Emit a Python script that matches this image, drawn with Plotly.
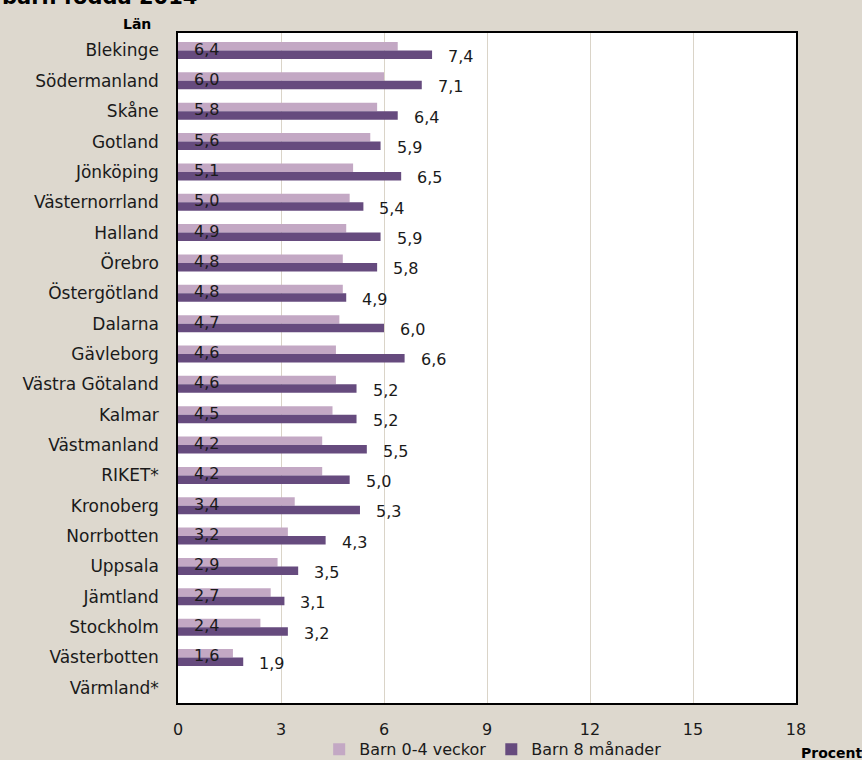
import plotly.graph_objects as go

categories = ["Blekinge", "Södermanland", "Skåne", "Gotland", "Jönköping", "Västernorrland",
              "Halland", "Örebro", "Östergötland", "Dalarna", "Gävleborg", "Västra Götaland",
              "Kalmar", "Västmanland", "RIKET*", "Kronoberg", "Norrbotten", "Uppsala",
              "Jämtland", "Stockholm", "Västerbotten", "Värmland*"]
barn_0_4_veckor = [6.4, 6.0, 5.8, 5.6, 5.1, 5.0, 4.9, 4.8, 4.8, 4.7, 4.6, 4.6, 4.5, 4.2, 4.2,
                   3.4, 3.2, 2.9, 2.7, 2.4, 1.6, None]
barn_8_manader = [7.4, 7.1, 6.4, 5.9, 6.5, 5.4, 5.9, 5.8, 4.9, 6.0, 6.6, 5.2, 5.2, 5.5, 5.0,
                  5.3, 4.3, 3.5, 3.1, 3.2, 1.9, None]
x_ticks = [0, 3, 6, 9, 12, 15, 18]

FONT = "DejaVu Sans"
LIGHT = "#C3A8C4"
DARK = "#664B7E"
BG = "#DDD8CE"
TXT = "#1a1a1a"

def fmt(v):
    return f"{v:.1f}".replace(".", ",")

fig = go.Figure()
fig.add_trace(go.Bar(y=categories, x=barn_0_4_veckor, orientation="h", name="Barn 0-4 veckor",
                     marker=dict(color=LIGHT, line=dict(width=0))))
fig.add_trace(go.Bar(y=categories, x=barn_8_manader, orientation="h", name="Barn 8 månader",
                     marker=dict(color=DARK, line=dict(width=0))))

annotations = []
for c, a, b in zip(categories, barn_0_4_veckor, barn_8_manader):
    if a is not None:
        annotations.append(dict(x=0, y=c, xref="x", yref="y", text=fmt(a), showarrow=False,
                                xanchor="left", yanchor="middle", xshift=14, yshift=1.5,
                                font=dict(family=FONT, size=16, color=TXT)))
    if b is not None:
        annotations.append(dict(x=b, y=c, xref="x", yref="y", text=fmt(b), showarrow=False,
                                xanchor="left", yanchor="middle", xshift=14, yshift=-6,
                                font=dict(family=FONT, size=16, color=TXT)))

annotations.append(dict(x=-0.288, y=1.033, xref="paper", yref="paper", text="<b>barn födda 2014</b>",
                        showarrow=False, xanchor="left", yanchor="bottom",
                        font=dict(family=FONT, size=21, color="#000")))
annotations.append(dict(x=-0.066, y=1.0135, xref="paper", yref="paper", text="<b>Län</b>",
                        showarrow=False, xanchor="center", yanchor="middle",
                        font=dict(family=FONT, size=14, color="#000")))
annotations.append(dict(x=1.058, y=-0.074, xref="paper", yref="paper", text="<b>Procent</b>",
                        showarrow=False, xanchor="center", yanchor="middle",
                        font=dict(family=FONT, size=14, color="#000")))

fig.update_layout(
    width=862, height=760,
    margin=dict(l=178, r=66, t=33, b=57, autoexpand=False),
    paper_bgcolor=BG, plot_bgcolor="#FFFFFF",
    barmode="group", bargap=0.44, bargroupgap=0,
    font=dict(family=FONT, size=16, color=TXT),
    showlegend=True,
    legend=dict(orientation="h", x=0.51, xanchor="center", y=-0.069, yanchor="middle",
                bgcolor="rgba(0,0,0,0)", font=dict(family=FONT, size=16, color=TXT),
                itemwidth=30, traceorder="normal"),
    annotations=annotations,
)
fig.update_xaxes(range=[0, 18], tickvals=x_ticks, ticktext=[str(t) for t in x_ticks],
                 showgrid=True, gridcolor="#DAD4C8", gridwidth=1, zeroline=False,
                 showline=True, linecolor="#000", linewidth=1.5, mirror=True,
                 ticks="", ticklabelstandoff=11, tickfont=dict(family=FONT, size=16, color=TXT))
fig.update_yaxes(categoryorder="array", categoryarray=categories, autorange="reversed",
                 showgrid=False, showline=True, linecolor="#000", linewidth=1.5, mirror=True,
                 ticks="", ticklabelstandoff=14, tickfont=dict(family=FONT, size=17, color=TXT))

fig.write_html("out.html", config={"displayModeBar": False},
               post_script="document.body.style.margin='0';document.body.style.overflow='hidden';")
